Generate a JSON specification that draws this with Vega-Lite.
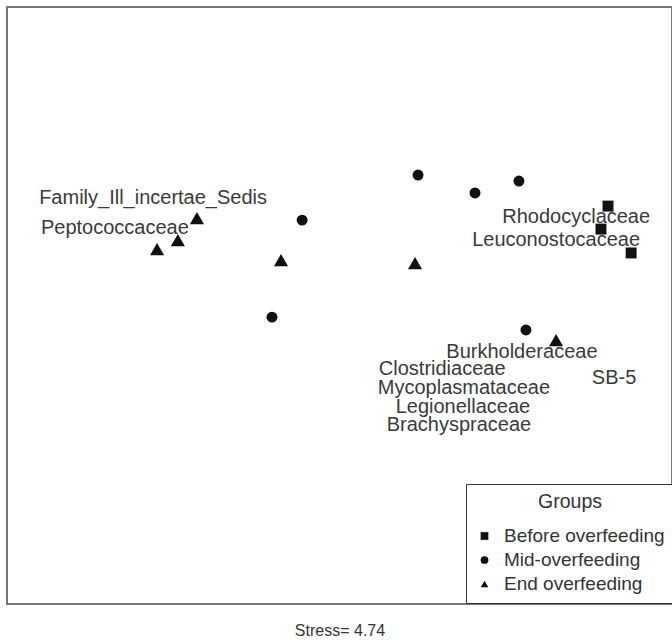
{
  "$schema": "https://vega.github.io/schema/vega-lite/v6.json",
  "autosize": {"type": "none"},
  "padding": {"left": 7, "top": 7, "right": 0, "bottom": 36},
  "width": 665,
  "height": 597,
  "background": "white",
  "config": {
    "view": {"stroke": "#777777", "strokeWidth": 2},
    "font": "Liberation Sans"
  },
  "datasets": {
    "samples": [
      {"group": "End overfeeding", "NMDS1": -0.433, "NMDS2": 0.293},
      {"group": "End overfeeding", "NMDS1": -0.490, "NMDS2": 0.219},
      {"group": "End overfeeding", "NMDS1": -0.552, "NMDS2": 0.189},
      {"group": "End overfeeding", "NMDS1": -0.182, "NMDS2": 0.152},
      {"group": "End overfeeding", "NMDS1": 0.218, "NMDS2": 0.142},
      {"group": "End overfeeding", "NMDS1": 0.639, "NMDS2": -0.116},
      {"group": "Mid-overfeeding", "NMDS1": -0.119, "NMDS2": 0.286},
      {"group": "Mid-overfeeding", "NMDS1": 0.227, "NMDS2": 0.437},
      {"group": "Mid-overfeeding", "NMDS1": 0.397, "NMDS2": 0.377},
      {"group": "Mid-overfeeding", "NMDS1": 0.528, "NMDS2": 0.417},
      {"group": "Mid-overfeeding", "NMDS1": -0.209, "NMDS2": -0.039},
      {"group": "Mid-overfeeding", "NMDS1": 0.549, "NMDS2": -0.082},
      {"group": "Before overfeeding", "NMDS1": 0.794, "NMDS2": 0.333},
      {"group": "Before overfeeding", "NMDS1": 0.773, "NMDS2": 0.256},
      {"group": "Before overfeeding", "NMDS1": 0.863, "NMDS2": 0.176}
    ],
    "families": [
      {"family": "Family_Ill_incertae_Sedis", "NMDS1": -0.564, "NMDS2": 0.360},
      {"family": "Peptococcaceae", "NMDS1": -0.678, "NMDS2": 0.260},
      {"family": "Rhodocyclaceae", "NMDS1": 0.699, "NMDS2": 0.296},
      {"family": "Leuconostocaceae", "NMDS1": 0.639, "NMDS2": 0.219},
      {"family": "Burkholderaceae", "NMDS1": 0.537, "NMDS2": -0.156},
      {"family": "Clostridiaceae", "NMDS1": 0.299, "NMDS2": -0.212},
      {"family": "Mycoplasmataceae", "NMDS1": 0.364, "NMDS2": -0.275},
      {"family": "Legionellaceae", "NMDS1": 0.361, "NMDS2": -0.340},
      {"family": "Brachyspraceae", "NMDS1": 0.349, "NMDS2": -0.400},
      {"family": "SB-5", "NMDS1": 0.812, "NMDS2": -0.243}
    ]
  },
  "encoding": {
    "x": {
      "field": "NMDS1", "type": "quantitative",
      "scale": {"domain": [-1, 0.985], "nice": false, "zero": false},
      "axis": {"title": "Stress= 4.74", "domain": false, "ticks": false, "labels": false, "grid": false,
               "titleFontSize": 16, "titleFontWeight": "normal", "titleColor": "#333333", "titlePadding": 18}
    },
    "y": {
      "field": "NMDS2", "type": "quantitative",
      "scale": {"domain": [-1, 1], "nice": false, "zero": false},
      "axis": null
    }
  },
  "layer": [
    {
      "data": {"name": "samples"},
      "transform": [{"filter": "datum.group !== 'End overfeeding'"}],
      "mark": {"type": "point", "filled": true, "color": "#111111", "opacity": 1, "size": 120},
      "encoding": {
        "shape": {
          "field": "group", "type": "nominal",
          "scale": {"domain": ["Before overfeeding", "Mid-overfeeding", "End overfeeding"],
                    "range": ["square", "circle", "triangle-up"]},
          "legend": {
            "title": "Groups", "orient": "none", "legendX": 459, "legendY": 477,
            "strokeColor": "#333333", "fillColor": "white", "padding": 9,
            "titleFontSize": 19.5, "titleFontWeight": "normal", "titleColor": "#333333",
            "titleAnchor": "middle", "titlePadding": 14,
            "labelFontSize": 19, "labelColor": "#333333", "labelOffset": 10, "labelLimit": 400,
            "symbolSize": 60, "symbolFillColor": "#111111", "symbolStrokeColor": "#111111",
            "rowPadding": 4
          }
        }
      }
    },
    {
      "data": {"name": "samples"},
      "transform": [{"filter": "datum.group === 'End overfeeding'"}],
      "mark": {"type": "point", "filled": true, "color": "#111111", "opacity": 1, "size": 200},
      "encoding": {
        "shape": {"field": "group", "type": "nominal"}
      }
    },
    {
      "data": {"name": "families"},
      "mark": {"type": "text", "fontSize": 20, "color": "#3a3a3a", "align": "center", "baseline": "middle"},
      "encoding": {
        "text": {"field": "family"}
      }
    }
  ]
}
